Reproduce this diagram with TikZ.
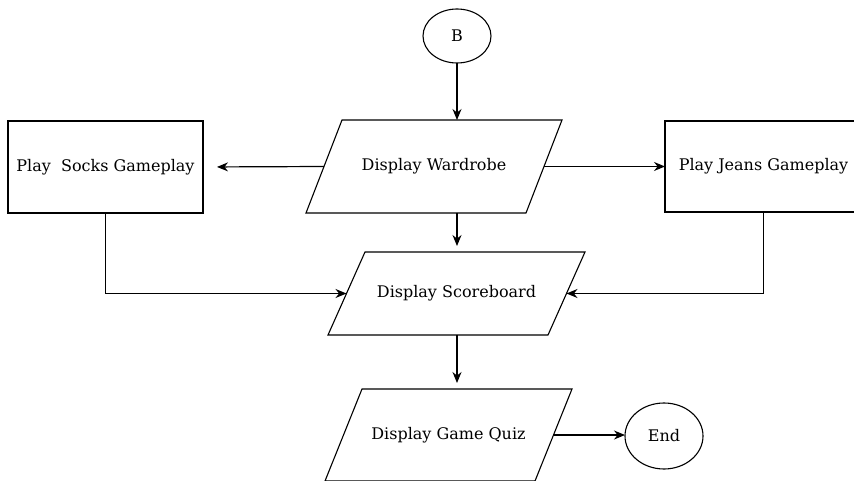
\documentclass[tikz,border=0pt]{standalone}
\usepackage{fontspec}
\setmainfont{DejaVu Serif}
\usetikzlibrary{shapes.geometric,arrows.meta}
\newcommand\drawpara[2]{\draw[shapeline] ([xshift=#2/2]#1.north west) -- ([xshift=#2/2]#1.north east) -- ([xshift=-#2/2]#1.south east) -- ([xshift=-#2/2]#1.south west) -- cycle;}
\begin{document}
\begin{tikzpicture}[x=1pt,y=-1pt,
  shapeline/.style={line width=1.1pt, line join=miter},
  txt/.style={font=\fontsize{16}{19}\selectfont, text=black},
  proc/.style={txt, draw, shapeline, rectangle, outer sep=0pt, inner sep=0pt},
  io/.style={txt, rectangle, outer sep=0pt, inner sep=0pt},
  term/.style={txt, draw, shapeline, ellipse, outer sep=0pt, inner sep=0pt},
  conn/.style={-{Stealth[length=11pt,width=9pt]}, line width=1.2pt}
]
\useasboundingbox (0,0) rectangle (854,481);
\clip (0,0) rectangle (854,481);
\fill[white] (0,0) rectangle (854,481);

\node[term, minimum width=68pt, minimum height=54pt] (B) at (457,36) {B};
\node[io, minimum width=220pt, minimum height=93pt] (wardrobe) at (434,166.5) {Display Wardrobe};
\drawpara{wardrobe}{36pt}
\node[proc, minimum width=195pt, minimum height=92pt] (socks) at (105.5,167) {Play~~Socks Gameplay};
\node[proc, minimum width=197pt, minimum height=91pt] (jeans) at (763.5,166.5) {Play Jeans Gameplay};
\node[io, minimum width=220pt, minimum height=83pt] (score) at (456.5,293.5) {Display Scoreboard};
\drawpara{score}{37pt}
\node[io, minimum width=210pt, minimum height=92pt] (quiz) at (448.5,435) {Display Game Quiz};
\drawpara{quiz}{37pt}
\node[term, minimum width=78pt, minimum height=66pt] (end) at (664,436) {End};

\draw[conn] (B.south) -- (B.south |- wardrobe.north);
\draw[conn, shorten >=14pt] (wardrobe.west) -- (socks.east);
\draw[conn] (wardrobe.east) -- (jeans.west);
\draw[conn, shorten >=6pt] (B.south |- wardrobe.south) -- (B.south |- score.north);
\draw[conn] (socks.south) |- (score.west);
\draw[conn] (jeans.south) |- (score.east);
\draw[conn, shorten >=6pt] (B.south |- score.south) -- (B.south |- quiz.north);
\draw[conn] (quiz.east) -- (quiz.east -| end.west);
\end{tikzpicture}
\end{document}
